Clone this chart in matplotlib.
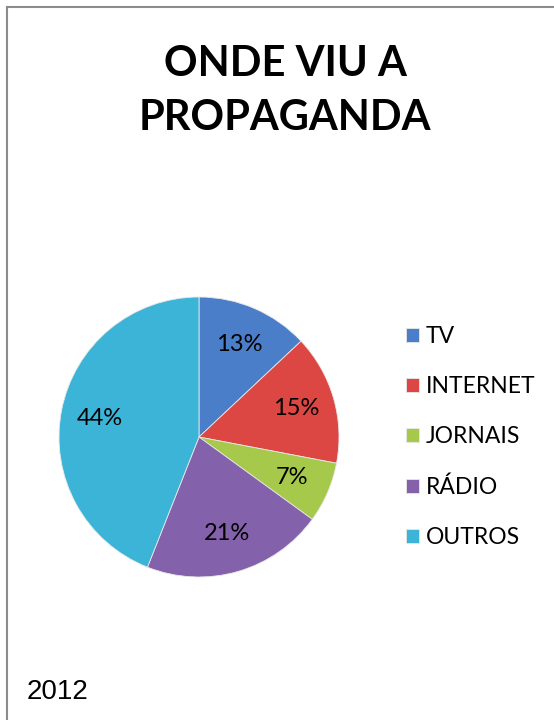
import matplotlib
matplotlib.use("Agg", force=True)
import matplotlib.pyplot as plt
from matplotlib.lines import Line2D

# dados do gráfico
categorias = ["TV", "INTERNET", "JORNAIS", "RÁDIO", "OUTROS"]
valores = [13, 15, 7, 21, 44]
cores = ["#4a7ec8", "#dc4643", "#a6c94b", "#8461ab", "#3cb4d8"]
titulo = "ONDE VIU A\nPROPAGANDA"
ano = "2012"

W, H = 554, 720
fig = plt.figure(figsize=(W / 100, H / 100), dpi=100)

# moldura (só topo e esquerda visíveis)
fig.add_artist(Line2D([7 / W, 1], [1 - 7 / H, 1 - 7 / H], color="#8c8c8c", lw=1.5))
fig.add_artist(Line2D([7 / W, 7 / W], [0, 1 - 7 / H], color="#8c8c8c", lw=1.5))

fig.text(285 / W, 1 - 91 / H, titulo, ha="center", va="center",
         fontsize=30, fontweight="bold", family="Lato", linespacing=1.52)

ax = fig.add_axes([59 / W, 143 / H, 280 / W, 280 / H])
wedges, texts, autotexts = ax.pie(
    valores, colors=cores, startangle=90, counterclock=False,
    autopct="%.0f%%", pctdistance=0.72, radius=1.0,
    wedgeprops=dict(edgecolor="#e8e8e8", linewidth=0.6),
    textprops=dict(fontsize=17, family="Lato", color="black"),
)
ax.set_xlim(-1, 1)
ax.set_ylim(-1, 1)
ax.set_aspect("equal")
ax.axis("off")

fig.legend(wedges, categorias, loc="center left",
           bbox_to_anchor=(397 / W, 1 - 437 / H), frameon=False,
           prop=dict(family="Lato", size=16.5), handlelength=0.56,
           handleheight=0.56, handletextpad=0.3, labelspacing=1.27,
           borderaxespad=0)

fig.text(27 / W, 1 - 692 / H, ano, ha="left", va="center",
         fontsize=20, family="Liberation Sans")

fig.savefig("out.png", dpi=100)
